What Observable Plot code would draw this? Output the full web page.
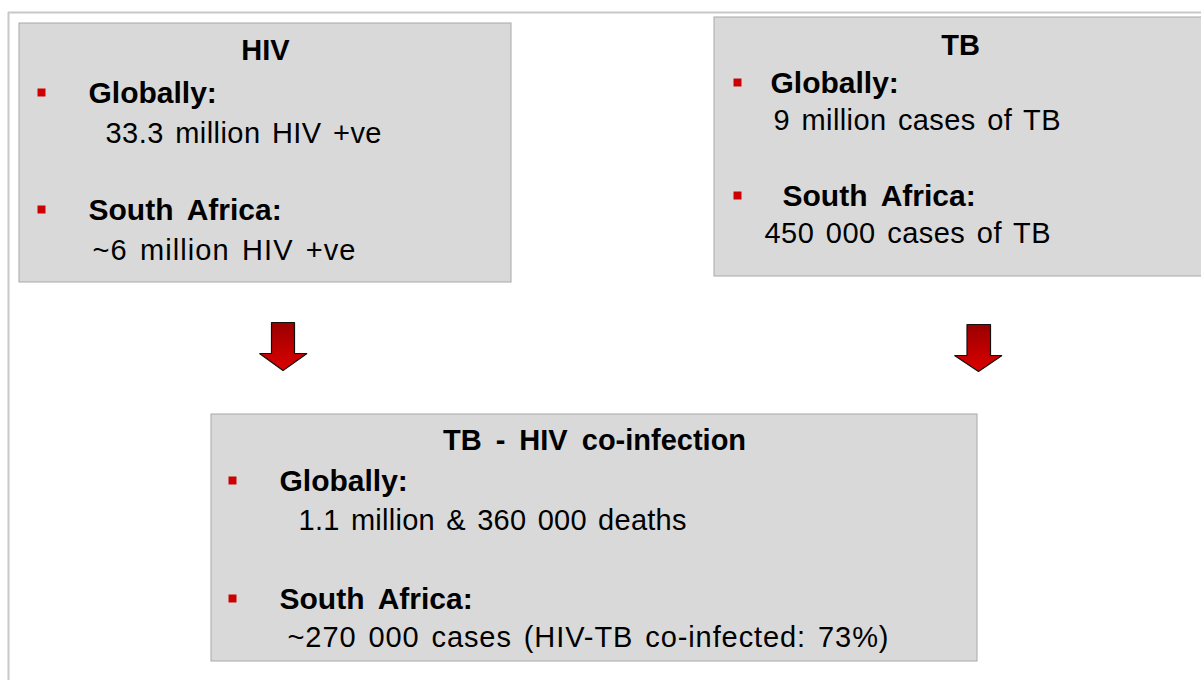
<!DOCTYPE html>
<html>
<head>
<meta charset="utf-8">
<script src="https://cdn.jsdelivr.net/npm/d3@7"></script>
<script src="https://cdn.jsdelivr.net/npm/@observablehq/plot@0.6"></script>
<style>
  html, body { margin: 0; padding: 0; background: #ffffff; }
  #chart { width: 1201px; height: 680px; overflow: hidden; }
</style>
</head>
<body>
<div id="chart"></div>
<script>
// ---- content ----
const boxTitles = ["HIV", "TB", "TB - HIV co-infection"];
const bulletHeads = ["Globally:", "South Africa:"];
const globalLines = ["33.3 million HIV +ve", "9 million cases of TB", "1.1 million & 360 000 deaths"];
const southAfricaLines = ["~6 million HIV +ve", "450 000 cases of TB", "~270 000 cases (HIV-TB co-infected: 73%)"];

// ---- layout (pixel positions of the diagram) ----
const boxX1 = [19, 714, 211], boxX2 = [511, 1215, 977];
const boxY1 = [23, 17, 414],  boxY2 = [282, 276, 661];
const titleX = [265, 960, 594], titleY = [50, 45, 440];
const bulletX = [41, 737, 232];
const headX = [[88, 88], [770, 782], [279, 279]];
const headY = [[93, 210], [83, 196], [481, 599]];
const lineX = [[105, 92], [773, 764], [298, 287]];
const lineY = [[133, 250], [120, 233], [520, 637]];
const lineW = [[276, 263], [287, 286], [388, 601]];

const boxes = boxTitles.map((t, i) => ({t, x1: boxX1[i], x2: boxX2[i], y1: boxY1[i], y2: boxY2[i]}));
const titles = boxTitles.map((t, i) => ({t, x: titleX[i], y: titleY[i]}));
const heads = [], lines = [], bullets = [];
boxTitles.forEach((_, i) => {
  bulletHeads.forEach((h, j) => {
    heads.push({t: h, x: headX[i][j], y: headY[i][j]});
    bullets.push({x: bulletX[i], y: headY[i][j] - 1});
  });
  lines.push({t: globalLines[i], x: lineX[i][0], y: lineY[i][0], w: lineW[i][0]});
  lines.push({t: southAfricaLines[i], x: lineX[i][1], y: lineY[i][1], w: lineW[i][1]});
});

// arrow outlines
function arrow(id, sx1, sx2, top, neck, hx1, hx2, tipX, tipY) {
  return [[sx1, top], [sx2, top], [sx2, neck], [hx2, neck], [tipX, tipY], [hx1, neck], [sx1, neck], [sx1, top]]
    .map(([x, y]) => ({id, x, y}));
}
const arrows = [
  ...arrow("a", 271, 294, 322, 353, 259, 306.5, 282.5, 370),
  ...arrow("b", 966.5, 990, 324, 355, 954, 1001.5, 978, 371)
];
const frame = [{x: 8, y: 690}, {x: 8, y: 12}, {x: 1215, y: 12}];

const FONT = "'Liberation Sans', Arial, Helvetica, sans-serif";

const plot = Plot.plot({
  width: 1201,
  height: 680,
  margin: 0,
  x: {domain: [0, 1201], range: [0, 1201], axis: null},
  y: {domain: [0, 680], range: [0, 680], axis: null},
  style: {fontFamily: FONT, background: "#ffffff", wordSpacing: "6px", overflow: "hidden"},
  marks: [
    () => {
      const ns = "http://www.w3.org/2000/svg";
      const defs = document.createElementNS(ns, "defs");
      defs.innerHTML = `<linearGradient id="arrowGrad" x1="0" y1="0" x2="0" y2="1">
        <stop offset="0" stop-color="#9a0000"/><stop offset="1" stop-color="#dd0000"/></linearGradient>`;
      return defs;
    },
    Plot.line(frame, {x: "x", y: "y", stroke: "#c8c8c8", strokeWidth: 2}),
    Plot.rect(boxes, {x1: "x1", x2: "x2", y1: "y1", y2: "y2", fill: "#d9d9d9", stroke: "#a8a8a8", strokeWidth: 1}),
    Plot.line(arrows, {x: "x", y: "y", z: "id", fill: "url(#arrowGrad)", stroke: "#111111", strokeWidth: 1.2, strokeLinejoin: "miter", curve: "linear"}),
    Plot.dot(bullets, {x: "x", y: "y", symbol: "square", r: 4.5, fill: "#cc0000", stroke: "none"}),
    Plot.text(titles, {x: "x", y: "y", text: "t", textAnchor: "middle", fontSize: 29, fontWeight: "bold", fill: "#000000"}),
    Plot.text(heads, {x: "x", y: "y", text: "t", textAnchor: "start", fontSize: 30, fontWeight: "bold", fill: "#000000"}),
    Plot.text(lines, {x: "x", y: "y", text: "t", textAnchor: "start", fontSize: 29, fill: "#000000"})
  ]
});
document.getElementById("chart").appendChild(plot);

// stretch body lines to the widths they have in the original slide
const textGroups = plot.querySelectorAll('g[aria-label="text"]');
const bodyGroup = textGroups[textGroups.length - 1];
bodyGroup.style.wordSpacing = "3px";
bodyGroup.querySelectorAll("text").forEach((el, k) => {
  el.setAttribute("textLength", lines[k].w);
  el.setAttribute("lengthAdjust", "spacing");
});
</script>
</body>
</html>
